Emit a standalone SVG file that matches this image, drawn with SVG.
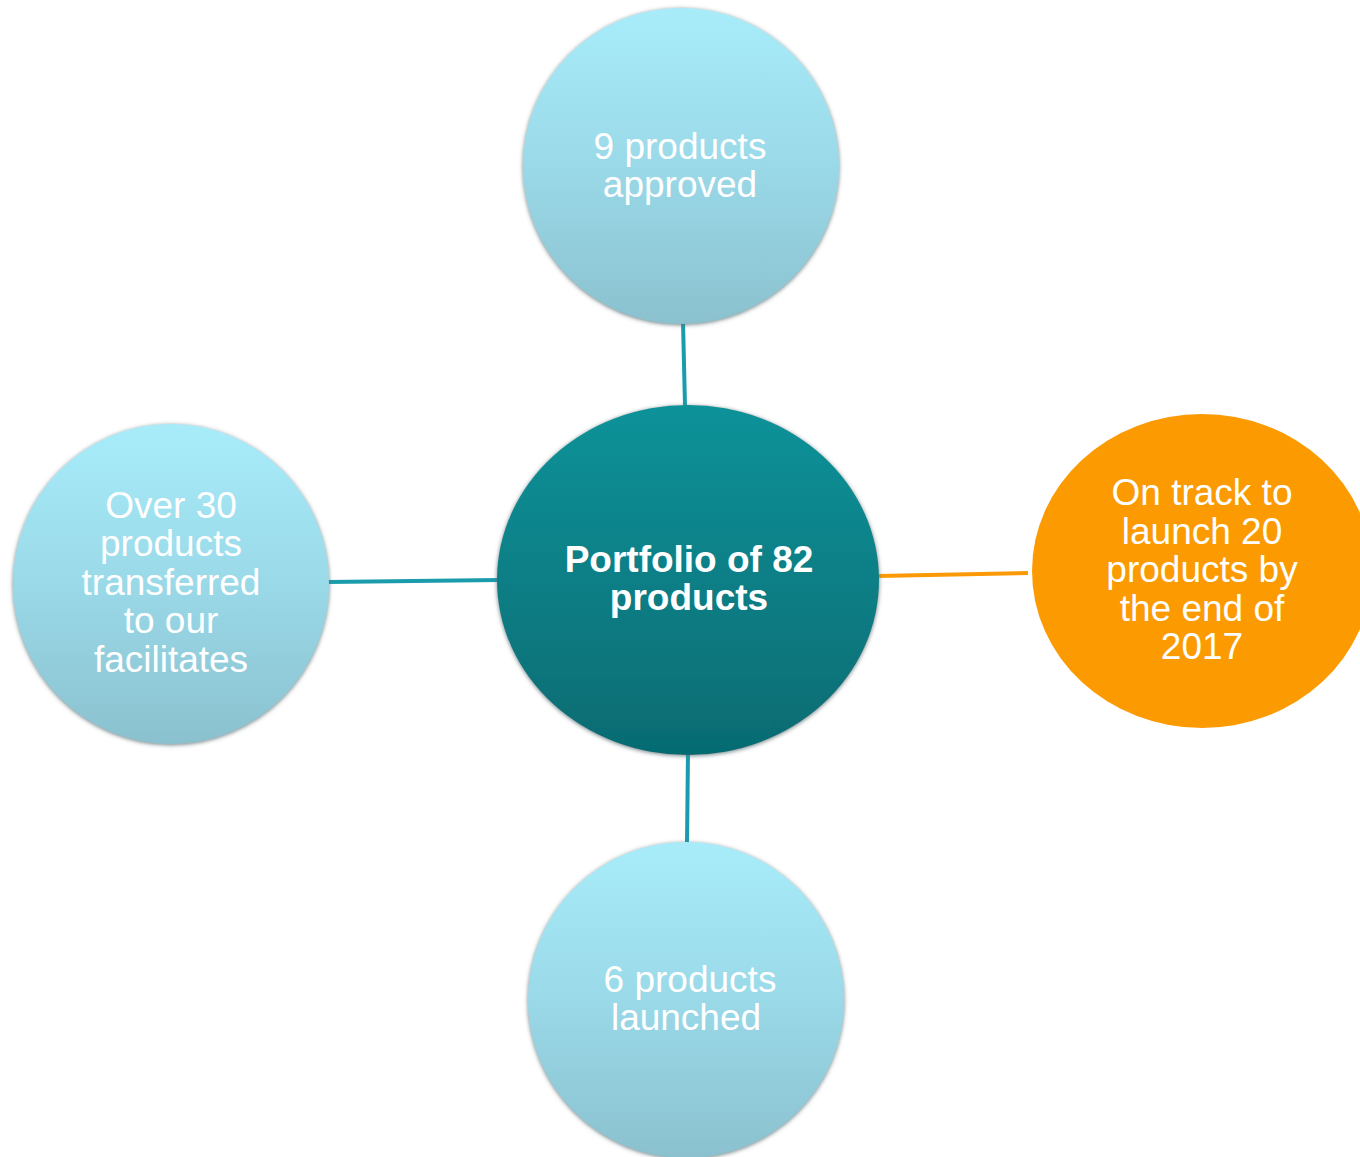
<svg xmlns="http://www.w3.org/2000/svg" width="1360" height="1157" viewBox="0 0 1360 1157">
<style>
.lbl{font-family:"Liberation Sans",Arial,sans-serif;font-size:37px;fill:#ffffff;text-anchor:middle}
.bold{font-weight:bold;font-size:37px}
.conn{stroke:#1a9cac;stroke-width:4;fill:none}
.conn-o{stroke:#fb9a06;stroke-width:4;fill:none}
.light{fill:url(#gLight);filter:url(#sh)}
</style>
<defs>
<linearGradient id="gLight" x1="0" y1="0" x2="0" y2="1">
<stop offset="0" stop-color="#a8ecfa"/>
<stop offset="0.5" stop-color="#9ad9e8"/>
<stop offset="1" stop-color="#8bc1cf"/>
</linearGradient>
<linearGradient id="gDark" x1="0" y1="0" x2="0" y2="1">
<stop offset="0" stop-color="#0f9299"/>
<stop offset="1" stop-color="#066b72"/>
</linearGradient>
<filter id="sh" x="-10%" y="-10%" width="120%" height="120%">
<feGaussianBlur in="SourceAlpha" stdDeviation="2"/>
<feOffset dx="0" dy="1" result="b"/>
<feFlood flood-color="#5d7176" flood-opacity="0.9"/>
<feComposite in2="b" operator="in"/>
<feMerge><feMergeNode/><feMergeNode in="SourceGraphic"/></feMerge>
</filter>
</defs>
<rect width="1360" height="1157" fill="#ffffff"/>
<g id="connectors">
<line class="conn" x1="683" y1="322" x2="685" y2="406"/>
<line class="conn" x1="328" y1="582" x2="499" y2="580"/>
<line class="conn-o" x1="878" y1="576" x2="1028" y2="573"/>
<line class="conn" x1="688" y1="752" x2="687" y2="843"/>
</g>
<g id="top">
<ellipse class="light" cx="681" cy="166" rx="158" ry="158"/>
<text class="lbl" x="680" y="159">9 products</text>
<text class="lbl" x="680" y="197">approved</text>
</g>
<g id="center">
<ellipse cx="688" cy="580" rx="191" ry="175" fill="url(#gDark)" filter="url(#sh)"/>
<text class="lbl bold" x="689" y="572">Portfolio of 82</text>
<text class="lbl bold" x="689" y="610">products</text>
</g>
<g id="right">
<ellipse cx="1202" cy="571" rx="170" ry="157" fill="#fc9a02"/>
<text class="lbl" x="1202" y="505">On track to</text>
<text class="lbl" x="1202" y="544">launch 20</text>
<text class="lbl" x="1202" y="582">products by</text>
<text class="lbl" x="1202" y="621">the end of</text>
<text class="lbl" x="1202" y="659">2017</text>
</g>
<g id="left">
<ellipse class="light" cx="171" cy="584" rx="158" ry="160"/>
<text class="lbl" x="171" y="518">Over 30</text>
<text class="lbl" x="171" y="556">products</text>
<text class="lbl" x="171" y="595">transferred</text>
<text class="lbl" x="171" y="633">to our</text>
<text class="lbl" x="171" y="672">facilitates</text>
</g>
<g id="bottom">
<ellipse class="light" cx="686" cy="1000" rx="158" ry="158"/>
<text class="lbl" x="690" y="992">6 products</text>
<text class="lbl" x="686" y="1030">launched</text>
</g>
</svg>
